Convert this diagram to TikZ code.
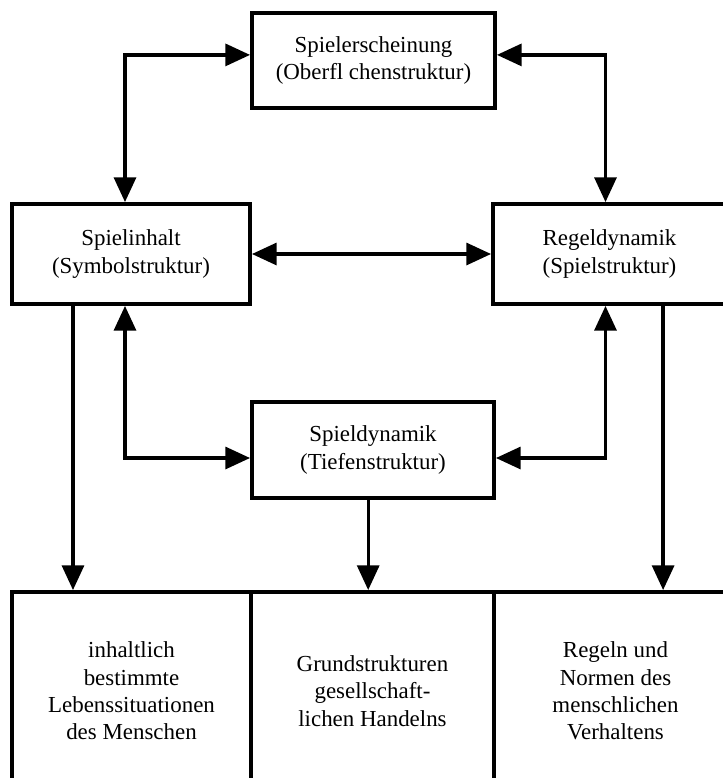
\documentclass[tikz,border=0pt]{standalone}
\usepackage{fontspec}
\setmainfont{Liberation Serif}
\usetikzlibrary{arrows.meta,positioning}

\tikzset{
  kasten/.style={draw, line width=2.7pt, align=center, inner sep=0pt},
  pfeil/.style={line width=2.4pt, -{Triangle[length=0.62cm,width=0.55cm]}},
  dpfeil/.style={line width=2.4pt, {Triangle[length=0.62cm,width=0.55cm]}-{Triangle[length=0.62cm,width=0.55cm]}}
}

\begin{document}
\begin{tikzpicture}[x=0.025cm, y=-0.025cm, font=\fontsize{16.3}{19.4}\selectfont]
        \clip (0,0) rectangle (723,778);

        % obere Reihe
        \node[kasten, minimum width=6.075cm, minimum height=2.375cm] (erschein) at (373.5,60.5)
            {Spielerscheinung\\(Oberfl chenstruktur)};
        \node[kasten, minimum width=5.95cm, minimum height=2.5cm] (inhalt) at (131,254)
            {Spielinhalt\\(Symbolstruktur)};
        \node[kasten, minimum width=5.825cm, minimum height=2.5cm] (regel) at (609.5,254)
            {Regeldynamik\\(Spielstruktur)};
        \node[kasten, minimum width=6.05cm, minimum height=2.4cm] (tief) at (373,450)
            {Spieldynamik\\(Tiefenstruktur)};

        % untere Reihe
        \node[kasten, minimum width=5.975cm, minimum height=4.95cm] (leben) at (131.5,691)
            {inhaltlich\\bestimmte\\Lebenssituationen\\des Menschen};
        \node[kasten, minimum width=6.075cm, minimum height=4.95cm] (grund) at (372.5,691)
            {Grundstrukturen\\gesellschaft-\\lichen Handelns};
        \node[kasten, minimum width=6.075cm, minimum height=4.95cm] (normen) at (615.5,691)
            {Regeln und\\Normen des\\menschlichen\\Verhaltens};

        % Verbindungen
        \coordinate (ol) at ([yshift=0.14cm]erschein.west);
        \coordinate (or) at ([yshift=0.14cm]erschein.east);
        \draw[dpfeil] (ol) -| ([xshift=-0.15cm]inhalt.north);
        \draw[dpfeil] (or) -| ([xshift=-0.1cm]regel.north);
        \draw[dpfeil] (inhalt.east) -- (regel.west);

        \coordinate (ul) at ([yshift=-0.2cm]tief.west);
        \coordinate (ur) at ([yshift=-0.2cm]tief.east);
        \draw[dpfeil] ([xshift=-0.15cm]inhalt.south) |- (ul);
        \draw[dpfeil] ([xshift=-0.1cm]regel.south) |- (ur);

        \coordinate (a1) at ([xshift=-1.45cm]inhalt.south);
        \coordinate (a2) at ([xshift=-0.12cm]tief.south);
        \coordinate (a3) at ([xshift=1.34cm]regel.south);
        \draw[pfeil] (a1) -- (a1 |- leben.north);
        \draw[pfeil] (a2) -- (a2 |- grund.north);
        \draw[pfeil] (a3) -- (a3 |- normen.north);
    \end{tikzpicture}
\end{document}
